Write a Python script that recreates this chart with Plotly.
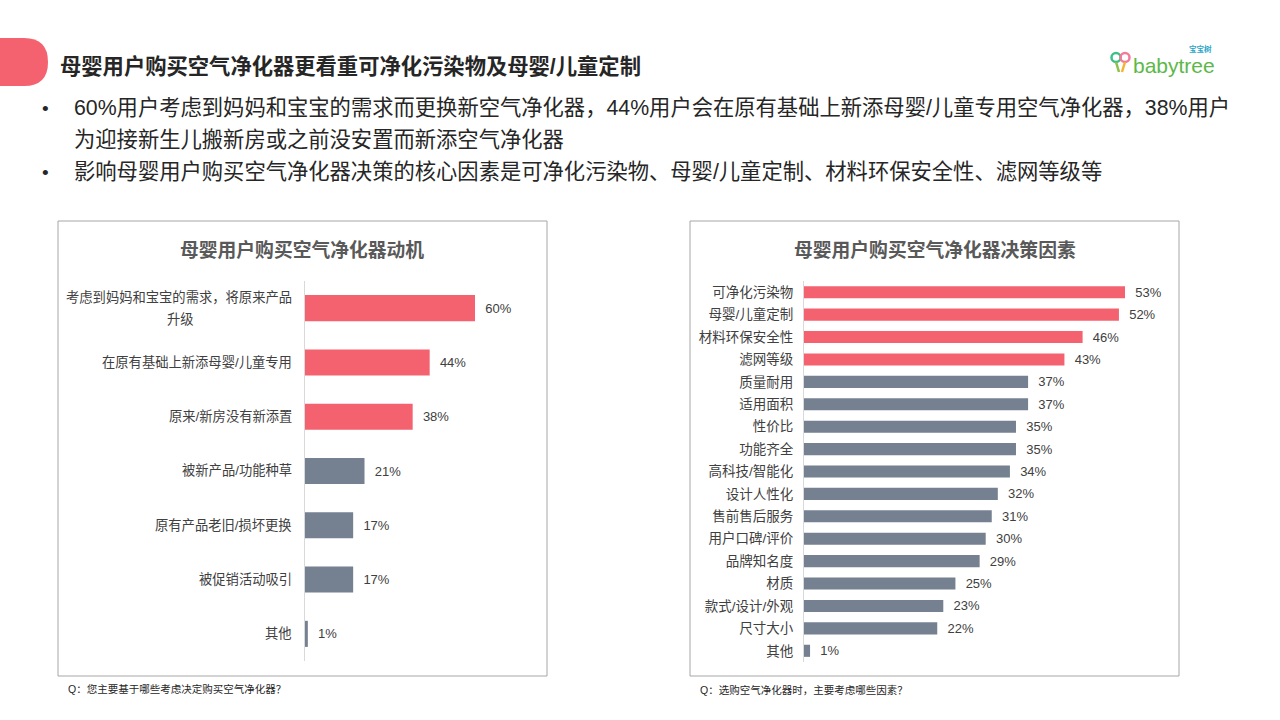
import plotly.graph_objects as go

W, H = 1280, 720
FONT = "Liberation Sans, Noto Sans CJK SC, sans-serif"
RED = "#F4626F"
GRAY = "#758090"

# ---------------- data ----------------
header_title = "母婴用户购买空气净化器更看重可净化污染物及母婴/儿童定制"
bullet_lines = [
    ("•", "60%用户考虑到妈妈和宝宝的需求而更换新空气净化器，44%用户会在原有基础上新添母婴/儿童专用空气净化器，38%用户"),
    ("", "为迎接新生儿搬新房或之前没安置而新添空气净化器"),
    ("•", "影响母婴用户购买空气净化器决策的核心因素是可净化污染物、母婴/儿童定制、材料环保安全性、滤网等级等"),
]

left_title = "母婴用户购买空气净化器动机"
left_cats = ["考虑到妈妈和宝宝的需求，将原来产品<br>升级", "在原有基础上新添母婴/儿童专用", "原来/新房没有新添置",
             "被新产品/功能种草", "原有产品老旧/损坏更换", "被促销活动吸引", "其他"]
left_vals = [60, 44, 38, 21, 17, 17, 1]
left_highlight = 3  # first N bars in red
left_note = "Q：您主要基于哪些考虑决定购买空气净化器？"

right_title = "母婴用户购买空气净化器决策因素"
right_cats = ["可净化污染物", "母婴/儿童定制", "材料环保安全性", "滤网等级", "质量耐用", "适用面积", "性价比",
              "功能齐全", "高科技/智能化", "设计人性化", "售前售后服务", "用户口碑/评价", "品牌知名度", "材质",
              "款式/设计/外观", "尺寸大小", "其他"]
right_vals = [53, 52, 46, 43, 37, 37, 35, 35, 34, 32, 31, 30, 29, 25, 23, 22, 1]
right_highlight = 4
right_note = "Q：选购空气净化器时，主要考虑哪些因素？"


def px(x):
    return x / W


def py(y):
    return 1 - y / H


fig = go.Figure()

fig.add_trace(go.Bar(
    x=left_vals, y=left_cats, orientation="h",
    marker=dict(color=[RED if i < left_highlight else GRAY for i in range(len(left_vals))], line=dict(width=0)),
    texttemplate="\u00a0\u00a0%{x}%", textposition="outside", cliponaxis=False, constraintext="none",
    textfont=dict(size=13, color="#404040", family=FONT),
    xaxis="x", yaxis="y", hoverinfo="skip", showlegend=False,
))
fig.add_trace(go.Bar(
    x=right_vals, y=right_cats, orientation="h",
    marker=dict(color=[RED if i < right_highlight else GRAY for i in range(len(right_vals))], line=dict(width=0)),
    texttemplate="\u00a0\u00a0%{x}%", textposition="outside", cliponaxis=False, constraintext="none",
    textfont=dict(size=13, color="#404040", family=FONT),
    xaxis="x2", yaxis="y2", hoverinfo="skip", showlegend=False, width=0.54,
))

annotations = []
shapes = []

# header tab
shapes.append(dict(type="path", xref="paper", yref="paper",
                   path=f"M 0 {py(38)} L {px(24)} {py(38)} Q {px(48)} {py(38)} {px(48)} {py(62)} "
                        f"Q {px(48)} {py(86)} {px(24)} {py(86)} L 0 {py(86)} Z",
                   fillcolor=RED, line=dict(width=0)))
annotations.append(dict(x=px(58), y=py(66), xref="paper", yref="paper", xanchor="left", yanchor="middle",
                        text=f"<b>{header_title}</b>", showarrow=False,
                        font=dict(size=21.3, color="#262626", family=FONT)))

# logo icon
for cx, col in [(1116, "#3CC08A"), (1125, "#F47A9A")]:
    shapes.append(dict(type="circle", xref="paper", yref="paper",
                       x0=px(cx - 4.5), x1=px(cx + 4.5), y0=py(62), y1=py(53),
                       line=dict(color=col, width=2.5), fillcolor="rgba(0,0,0,0)"))
shapes.append(dict(type="line", xref="paper", yref="paper", x0=px(1116), y0=py(62), x1=px(1119), y1=py(72),
                   line=dict(color="#8BC34A", width=2.5)))
shapes.append(dict(type="line", xref="paper", yref="paper", x0=px(1125), y0=py(62), x1=px(1122), y1=py(72),
                   line=dict(color="#F5B335", width=2.5)))
annotations.append(dict(x=px(1131), y=py(65), xref="paper", yref="paper", xanchor="left", yanchor="middle",
                        text="babytree", showarrow=False,
                        font=dict(size=21, color="#5CB848", family="Liberation Sans, sans-serif")))
annotations.append(dict(x=px(1214), y=py(49), xref="paper", yref="paper", xanchor="right", yanchor="middle",
                        text="<b>宝宝树</b>", showarrow=False,
                        font=dict(size=7.5, color="#2BA6C9", family=FONT)))

# bullets
for i, (b, t) in enumerate(bullet_lines):
    yy = 108 + 32 * i
    if b:
        annotations.append(dict(x=px(40), y=py(yy), xref="paper", yref="paper", xanchor="left", yanchor="middle",
                                text=b, showarrow=False, font=dict(size=19, color="#262626", family=FONT)))
    annotations.append(dict(x=px(72), y=py(yy), xref="paper", yref="paper", xanchor="left", yanchor="middle",
                            text=t, showarrow=False, font=dict(size=21.3, color="#262626", family=FONT)))

# panels
for x0, x1 in [(58, 547), (690, 1179)]:
    shapes.append(dict(type="rect", xref="paper", yref="paper", x0=px(x0), x1=px(x1), y0=py(676), y1=py(221),
                       line=dict(color="#A6A6A6", width=1), fillcolor="rgba(0,0,0,0)", layer="below"))

annotations.append(dict(x=px(302), y=py(250), xref="paper", yref="paper", xanchor="center", yanchor="middle",
                        text=f"<b>{left_title}</b>", showarrow=False, font=dict(size=18.8, color="#595959", family=FONT)))
annotations.append(dict(x=px(935), y=py(250), xref="paper", yref="paper", xanchor="center", yanchor="middle",
                        text=f"<b>{right_title}</b>", showarrow=False, font=dict(size=18.8, color="#595959", family=FONT)))

# left category labels (wrapped label lines centred on each other)
for c in left_cats:
    parts = c.split("<br>")
    n = len(parts)
    if n == 1:
        annotations.append(dict(x=px(294), y=c, xref="paper", yref="y", xanchor="right", yanchor="middle",
                                text=c, showarrow=False, font=dict(size=13.3, color="#404040", family=FONT)))
    else:
        for k, part in enumerate(parts):
            shift = (n - 1) * 11 - 22 * k
            if k == 0:
                annotations.append(dict(x=px(294), y=c, xref="paper", yref="y", xanchor="right", yanchor="middle",
                                        yshift=shift, text=part, showarrow=False,
                                        font=dict(size=13.3, color="#404040", family=FONT)))
            else:
                annotations.append(dict(x=px(180), y=c, xref="paper", yref="y", xanchor="center", yanchor="middle",
                                        yshift=shift, text=part, showarrow=False,
                                        font=dict(size=13.3, color="#404040", family=FONT)))

annotations.append(dict(x=px(66), y=py(689), xref="paper", yref="paper", xanchor="left", yanchor="middle",
                        text=left_note, showarrow=False, font=dict(size=10.5, color="#262626", family=FONT)))
annotations.append(dict(x=px(698), y=py(690), xref="paper", yref="paper", xanchor="left", yanchor="middle",
                        text=right_note, showarrow=False, font=dict(size=10.5, color="#262626", family=FONT)))

left_scale = 170 / 60.0   # px per %
right_scale = 321 / 53.0

fig.update_layout(
    width=W, height=H, margin=dict(l=0, r=0, t=0, b=0),
    paper_bgcolor="white", plot_bgcolor="rgba(0,0,0,0)",
    bargap=0.52,
    font=dict(family=FONT),
    xaxis=dict(domain=[px(305), px(305 + 80 * left_scale)], range=[0, 80], visible=False, fixedrange=True),
    yaxis=dict(domain=[py(661), py(281)], anchor="x", autorange="reversed", showticklabels=False,
               showline=True, linecolor="#D9D9D9", linewidth=1, showgrid=False, ticks="", fixedrange=True),
    xaxis2=dict(domain=[px(804), px(804 + 60 * right_scale)], range=[0, 60], visible=False, anchor="y2",
                fixedrange=True),
    yaxis2=dict(domain=[py(662), py(281)], anchor="x2", autorange="reversed", showline=True,
                linecolor="#D9D9D9", linewidth=1, showgrid=False, ticks="", ticklabelstandoff=7,
                tickfont=dict(size=13.5, color="#404040", family=FONT), fixedrange=True),
    shapes=shapes, annotations=annotations,
)

fig.write_html("out.html", config={"displayModeBar": False},
               post_script="document.body.style.margin='0';document.body.style.overflow='hidden';")
